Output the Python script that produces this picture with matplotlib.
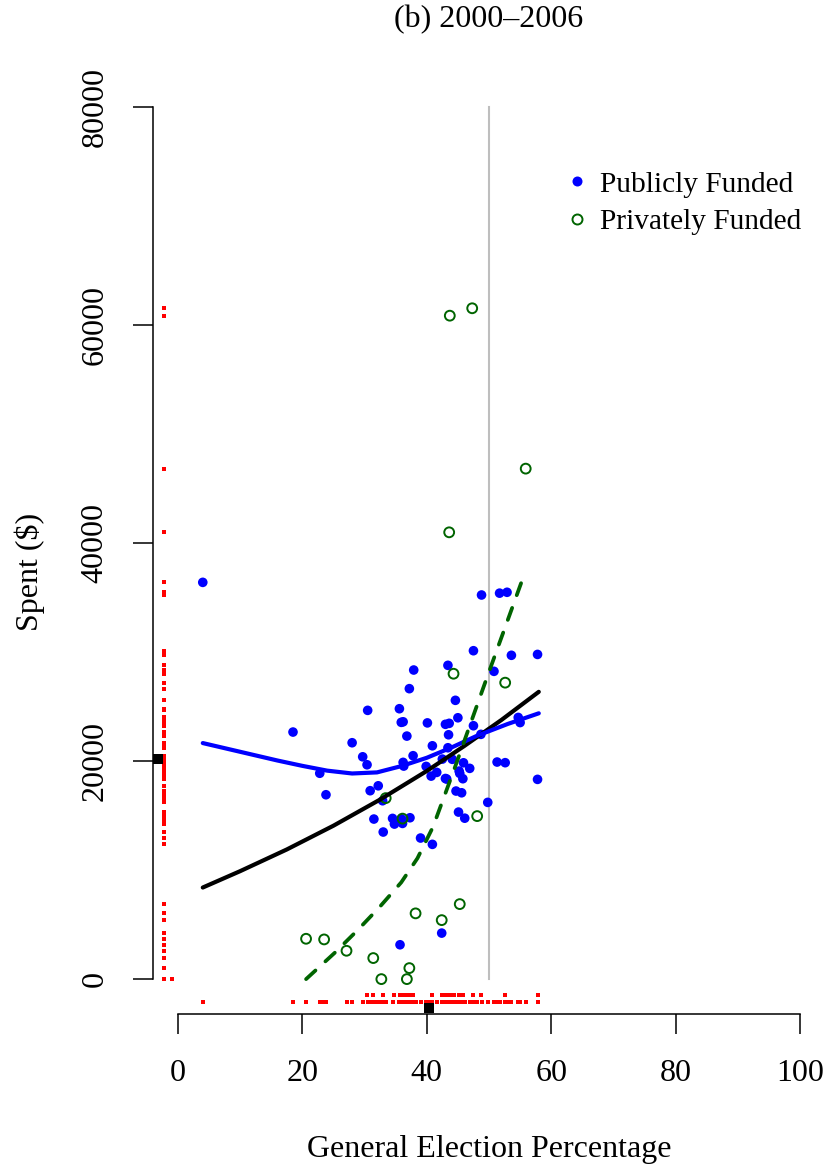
import numpy as np
import matplotlib
matplotlib.use("Agg")
import matplotlib.pyplot as plt
from matplotlib.lines import Line2D

plt.rcParams['font.family'] = ['Liberation Serif', 'DejaVu Serif']

# publicly funded candidates: general election % and dollars spent
public_pct = [4.0, 48.8, 51.7, 52.9, 47.5, 53.6, 57.8, 37.9, 43.4, 37.2,
              50.8, 44.6, 30.5, 35.6, 45.0, 35.9, 36.2, 40.1, 43.0, 43.6,
              36.8, 43.5, 47.5, 18.5, 28.0, 40.9, 43.4, 48.7, 54.7, 55.0,
              29.7, 30.4, 37.8, 36.2, 36.3, 42.5, 44.1, 45.9, 39.9, 45.2,
              45.3, 46.9, 41.6, 40.7, 43.0, 43.2, 45.8, 51.3, 52.6, 57.8,
              22.8, 23.8, 30.9, 32.2, 32.9, 44.7, 45.6, 49.8, 31.5, 34.5,
              34.8, 35.9, 36.1, 37.3, 33.0, 45.1, 46.1, 39.0, 40.9, 35.7,
              42.4]
public_spent = [36390, 35230, 35400, 35480, 30120, 29700, 29780, 28350, 28780, 26640,
                28230, 25570, 24650, 24800, 23970, 23550, 23600, 23500, 23370, 23460,
                22290, 22410, 23240, 22660, 21680, 21400, 21220, 22450, 24000, 23530,
                20390, 19660, 20490, 19880, 19540, 20180, 20160, 19840, 19510, 19080,
                18870, 19330, 18960, 18620, 18400, 18350, 18380, 19910, 19850, 18320,
                18880, 16910, 17280, 17730, 16360, 17250, 17090, 16210, 14680, 14740,
                14220, 14710, 14280, 14800, 13490, 15320, 14760, 12940, 12360, 3150,
                4220]

# privately funded candidates
private_pct = [44.3, 52.6, 33.4, 36.1, 48.1, 20.6, 23.5, 27.1, 31.4, 32.7,
               36.8, 37.2, 38.2, 42.4, 45.3, 43.7, 47.3, 55.9, 43.6]
private_spent = [28010, 27190, 16600, 14720, 14950, 3700, 3640, 2600, 1930, 0,
                 0, 1010, 6030, 5410, 6880, 60850, 61530, 46820, 40980]

# fitted curves
all_fit_x = [4, 10, 17.5, 25, 32.5, 40, 46, 52, 58]
all_fit_y = [8400, 9900, 11890, 14070, 16470, 19090, 21370, 23770, 26350]
public_fit_x = [4, 10, 16, 20, 24, 28, 32, 36, 40, 44, 48, 53, 58]
public_fit_y = [21650, 20850, 20050, 19560, 19120, 18860, 18960, 19550, 20300, 21250,
                22300, 23400, 24380]
private_fit_x = [20.6, 25.2, 28.9, 32.4, 35.9, 38.5, 41.0, 44.4, 49.6, 55.4]
private_fit_y = [0, 2410, 4500, 6600, 8875, 11085, 13960, 19230, 27550, 36700]

# center markers on each axis
center_pct = 40.3
center_spent = 20180
cutoff = 50

x_ticks = [0, 20, 40, 60, 80, 100]
y_ticks = [0, 20000, 40000, 60000, 80000]


def stack_levels(vals, res, top=1):
    # tied values get pushed one row outward
    seen = {}
    out = []
    for v in vals:
        b = round(v / res)
        out.append(min(seen.get(b, 0), top))
        seen[b] = seen.get(b, 0) + 1
    return np.array(out)


fig = plt.figure(figsize=(8.28, 11.67), dpi=100)
ax = fig.add_axes([153/828, 1 - 1014/1167, 672/828, 942/1167])
ax.set_xlim(-4, 104)
ax.set_ylim(-3200, 83200)

ax.plot([cutoff, cutoff], [0, 80000], color='#bebebe', lw=1.5, zorder=1)

ax.scatter(public_pct, public_spent, s=48, color='blue', edgecolors='none', zorder=3)
ax.scatter(private_pct, private_spent, s=50, facecolors='none', edgecolors='#006400',
           linewidths=1.4, zorder=4)

ax.plot(all_fit_x, all_fit_y, color='black', lw=3.0, zorder=5, solid_capstyle='round')
ax.plot(public_fit_x, public_fit_y, color='blue', lw=3.0, zorder=5, solid_capstyle='round')
ax.plot(private_fit_x, private_fit_y, color='#006400', lw=2.7, zorder=5,
        linestyle=(0, (3.4, 3.6)), dash_capstyle='round')

# rugs
all_pct = np.array(public_pct + private_pct)
all_spent = np.array(public_spent + private_spent)
lx = stack_levels(all_pct, 0.35)
ax.plot(all_pct, -2140 + 670 * lx, 's', color='red', ms=2.3, mew=0,
        clip_on=False, zorder=2)
ly = stack_levels(all_spent, 1)
ax.plot(-2.2 + 1.2 * ly, all_spent, 's', color='red', ms=2.3, mew=0,
        clip_on=False, zorder=2)
ax.plot([center_pct], [-2690], 's', color='black', ms=6.5, mew=0, clip_on=False)
ax.plot([-3.2], [center_spent], 's', color='black', ms=6.5, mew=0, clip_on=False)

for s in ['top', 'right']:
    ax.spines[s].set_visible(False)
ax.spines['left'].set_bounds(0, 80000)
ax.spines['bottom'].set_bounds(0, 100)
ax.spines['left'].set_linewidth(1.1)
ax.spines['bottom'].set_linewidth(1.1)
ax.set_xticks(x_ticks)
ax.set_yticks(y_ticks)
ax.set_xticklabels([str(t) for t in x_ticks])
ax.set_yticklabels([str(t) for t in y_ticks], rotation=90, va='center')
ax.tick_params(axis='both', direction='out', length=14.4, width=1.1, labelsize=23)
ax.tick_params(axis='x', pad=18)
ax.tick_params(axis='y', pad=17)

fig.text(489/828, 1 - 20/1167, '(b) 2000\u20132006', ha='center', va='center', fontsize=23)
fig.text(489/828, 1 - 1150/1167, 'General Election Percentage', ha='center', va='center',
         fontsize=23)
fig.text(30/828, 1 - 572/1167, 'Spent ($)', ha='center', va='center', rotation=90,
         fontsize=23)

handles = [Line2D([], [], marker='o', ls='none', color='blue', ms=7.2, mew=0),
           Line2D([], [], marker='o', ls='none', mfc='none', mec='#006400', ms=7.2, mew=1.4)]
fig.legend(handles, ['Publicly Funded', 'Privately Funded'], loc='upper left',
           bbox_to_anchor=(568/828, 1 - 171/1167), frameon=False, fontsize=21.2,
           handlelength=0.6, handletextpad=0.5, labelspacing=0.38, borderpad=0,
           borderaxespad=0)

fig.savefig('out.png', dpi=100)
